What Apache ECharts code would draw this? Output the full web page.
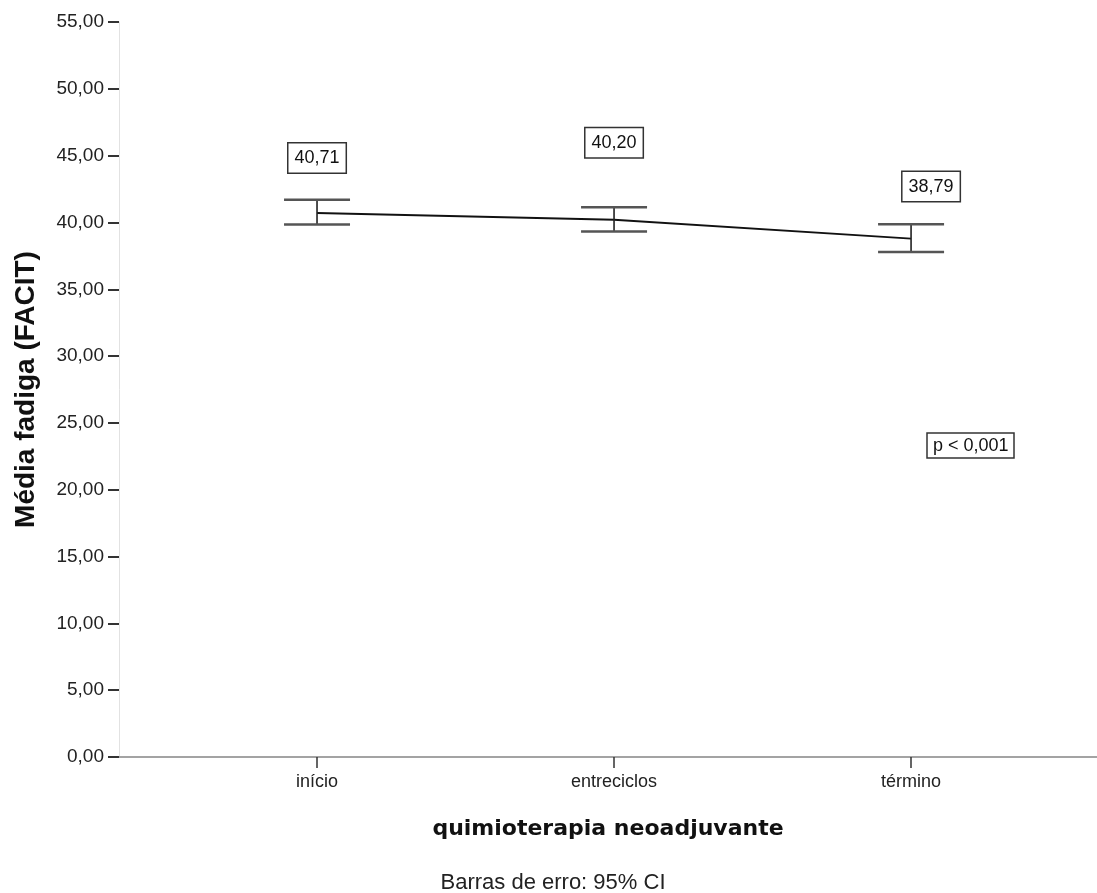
<!DOCTYPE html>
<html>
<head>
<meta charset="utf-8">
<script src="https://cdn.jsdelivr.net/npm/echarts@6/dist/echarts.min.js"></script>
<style>html,body{margin:0;padding:0;background:#fff;}#c{width:1097px;height:893px;}</style>
</head>
<body>
<div id="c"></div>
<script>
const categories = ['início', 'entreciclos', 'término'];
const means = [40.71, 40.20, 38.79];
const ciLower = [39.84, 39.33, 37.79];
const ciUpper = [41.69, 41.13, 39.86];
const yTicks = [0, 5, 10, 15, 20, 25, 30, 35, 40, 45, 50, 55];
const pText = 'p < 0,001';
const footnote = 'Barras de erro: 95% CI';
const xTitle = 'quimioterapia neoadjuvante';
const yTitle = 'Média fadiga (FACIT)';

const labelOffsets = [[0, -55], [0, -77], [20, -52]];
const fmt = v => v.toFixed(2).replace('.', ',');
const catIdx = categories.map((c, i) => i);

const chart = echarts.init(document.getElementById('c'), null, {renderer: 'canvas'});
chart.setOption({
  animation: false,
  backgroundColor: '#fff',
  grid: {left: 119, right: 0, top: 22, bottom: 136, containLabel: false},
  xAxis: {
    type: 'value',
    min: -0.6667,
    max: 2.626,
    splitLine: {show: false},
    axisLine: {show: true, onZero: false, lineStyle: {color: '#a3a3a3', width: 2}},
    axisTick: {show: true, customValues: catIdx, length: 11, lineStyle: {color: '#333', width: 1.5}},
    axisLabel: {
      customValues: catIdx, margin: 16,
      formatter: v => categories[Math.round(v)] || '',
      fontFamily: 'Liberation Sans, Arial, sans-serif', fontSize: 18, color: '#222'
    },
    name: xTitle, nameLocation: 'middle', nameGap: 61,
    nameTextStyle: {fontFamily: 'DejaVu Sans, sans-serif', fontWeight: 'bold', fontSize: 22, color: '#111'}
  },
  yAxis: {
    type: 'value', min: yTicks[0], max: yTicks[yTicks.length - 1], interval: 5,
    splitLine: {show: false},
    axisLine: {show: true, onZero: false, lineStyle: {color: '#e2e2e2', width: 1}},
    axisTick: {show: true, length: 11, lineStyle: {color: '#333', width: 2}},
    axisLabel: {
      formatter: v => fmt(v), margin: 15,
      fontFamily: 'Liberation Sans, Arial, sans-serif', fontSize: 19, color: '#222'
    },
    name: yTitle, nameLocation: 'middle', nameGap: 79, nameRotate: 90,
    nameTextStyle: {fontFamily: 'Liberation Sans, Arial, sans-serif', fontWeight: 'bold', fontSize: 28, color: '#111'}
  },
  title: [{
    text: pText, left: 927, top: 433,
    padding: [4, 6, 3, 6],
    borderColor: '#333', borderWidth: 1.5, backgroundColor: '#fff',
    textStyle: {fontFamily: 'Liberation Sans, Arial, sans-serif', fontSize: 18, fontWeight: 'normal', color: '#111'}
  }],
  graphic: [{
    type: 'text',
    style: {
      text: footnote, x: 553, y: 883, align: 'center', verticalAlign: 'middle',
      fontFamily: 'Liberation Sans, Arial, sans-serif', fontSize: 22, fill: '#222'
    }
  }],
  series: [
    {
      type: 'line',
      data: catIdx.map(i => [i, means[i]]),
      symbol: 'none',
      lineStyle: {color: '#111', width: 2},
      z: 3
    },
    {
      type: 'custom',
      data: catIdx.map(i => [i, ciLower[i], ciUpper[i]]),
      renderItem: function (params, api) {
        const x = api.value(0);
        const lo = api.coord([x, api.value(1)]);
        const hi = api.coord([x, api.value(2)]);
        const hw = 33;
        const wStyle = {stroke: '#555', lineWidth: 2.5};
        return {
          type: 'group',
          children: [
            {type: 'line', shape: {x1: lo[0], y1: lo[1], x2: hi[0], y2: hi[1]}, style: {stroke: '#222', lineWidth: 1.6}},
            {type: 'line', shape: {x1: lo[0] - hw, y1: lo[1], x2: lo[0] + hw, y2: lo[1]}, style: wStyle},
            {type: 'line', shape: {x1: hi[0] - hw, y1: hi[1], x2: hi[0] + hw, y2: hi[1]}, style: wStyle}
          ]
        };
      },
      z: 4
    },
    {
      type: 'scatter',
      symbolSize: 0,
      itemStyle: {opacity: 1},
      data: catIdx.map(i => ({
        value: [i, means[i]],
        label: {offset: labelOffsets[i]}
      })),
      label: {
        show: true, position: 'inside',
        formatter: p => fmt(p.value[1]),
        fontFamily: 'Liberation Sans, Arial, sans-serif', fontSize: 18, color: '#111',
        backgroundColor: '#fff', borderColor: '#333', borderWidth: 1.5,
        padding: [6, 6, 5, 6]
      },
      z: 5
    }
  ]
});
</script>
</body>
</html>
